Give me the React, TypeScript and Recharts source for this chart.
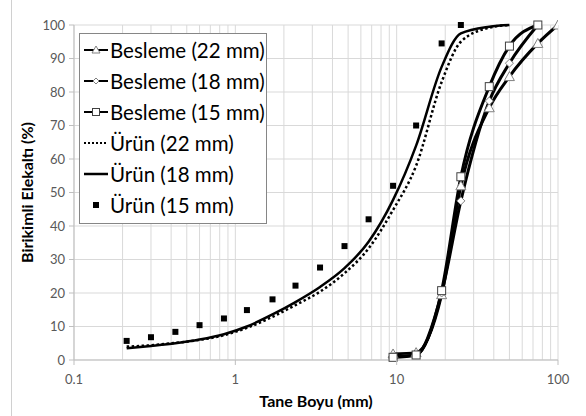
import React from "react";
import {
  LineChart,
  Line,
  XAxis,
  YAxis,
  CartesianGrid,
  Label,
} from "recharts";

// sieve sizes (mm)
const feedSizes = [9.5, 13.2, 19, 25, 37.5, 50, 75];
const feed22Sizes = [9.5, 13.2, 19, 25, 37.5, 50, 75, 100];
const productSizes = [0.212, 0.3, 0.425, 0.6, 0.85, 1.18, 1.7, 2.36, 3.35, 4.75, 6.7, 9.5, 13.2, 19, 25];
const productCurveSizes = [0.212, 0.3, 0.425, 0.6, 0.85, 1.18, 1.7, 2.36, 3.35, 4.75, 6.7, 9.5, 13.2, 19, 25, 37.5, 50];

// cumulative passing (%)
const feed22 = [1.8, 2.2, 19.5, 52, 75.3, 84.6, 94.5, 100];
const feed18 = [1.0, 1.5, 20, 47.5, 77.3, 88.6, 100];
const feed15 = [0.8, 1.5, 20.7, 54.7, 81.6, 93.7, 100];
const product22 = [4.0, 4.4, 5.1, 6.0, 7.4, 9.6, 12.9, 16.4, 20.4, 25.9, 33.3, 44.8, 58, 83, 95, 99.2, 100];
const product18 = [3.5, 4.2, 5.0, 6.1, 7.7, 10.0, 13.6, 17.3, 21.8, 27.4, 35.3, 47.8, 64, 87.5, 97.5, 99.5, 100];
const product15 = [5.7, 6.8, 8.4, 10.4, 12.4, 14.9, 18.1, 22.2, 27.6, 34, 42, 52, 70, 94.5, 100];

const xTicks = [
  0.1, 0.2, 0.3, 0.4, 0.5, 0.6, 0.7, 0.8, 0.9,
  1, 2, 3, 4, 5, 6, 7, 8, 9,
  10, 20, 30, 40, 50, 60, 70, 80, 90, 100,
];
const xLabels = [0.1, 1, 10, 100];
const yTicks = [0, 10, 20, 30, 40, 50, 60, 70, 80, 90, 100];

const legendNames = [
  "Besleme (22 mm)",
  "Besleme (18 mm)",
  "Besleme (15 mm)",
  "Ürün (22 mm)",
  "Ürün (18 mm)",
  "Ürün (15 mm)",
];

const pairs = (xs: number[], ys: number[]) => xs.map((s, i) => ({ size: s, value: ys[i] }));

const FONT = "Lato, Carlito, 'Open Sans', sans-serif";
const GRID = "#d9d9d9";
const AXIS = "#bfbfbf";

const Triangle = (p: any) => {
  if (p.cx == null) return null;
  const { cx, cy } = p;
  return (
    <path
      key={p.index}
      d={`M${cx},${cy - 5} L${cx + 5},${cy + 4} L${cx - 5},${cy + 4} Z`}
      fill="#fff"
      stroke="#808080"
      strokeWidth={1}
    />
  );
};

const Diamond = (p: any) => {
  if (p.cx == null) return null;
  const { cx, cy } = p;
  return (
    <path
      key={p.index}
      d={`M${cx},${cy - 4} L${cx + 4},${cy} L${cx},${cy + 4} L${cx - 4},${cy} Z`}
      fill="#fff"
      stroke="#808080"
      strokeWidth={1}
    />
  );
};

const OpenSquare = (p: any) => {
  if (p.cx == null) return null;
  return (
    <rect key={p.index} x={p.cx - 4} y={p.cy - 4} width={8} height={8} fill="#fff" stroke="#404040" strokeWidth={1} />
  );
};

const FilledSquare = (p: any) => {
  if (p.cx == null) return null;
  return <rect key={p.index} x={p.cx - 3} y={p.cy - 3} width={6} height={6} fill="#000" />;
};

const XTick = (p: any) => {
  const v = p.payload.value;
  if (!xLabels.includes(v)) return <g />;
  return (
    <g>
      <line x1={p.x} x2={p.x} y1={p.y - 8} y2={p.y - 3} stroke={AXIS} />
      <text x={p.x} y={p.y} dy={16} textAnchor="middle" fill="#595959" fontSize={13} fontFamily={FONT}>
        {v}
      </text>
    </g>
  );
};

function LegendSymbol({ i }: { i: number }) {
  return (
    <svg width={26} height={14} style={{ display: "block", flex: "none" }}>
      {i < 3 && <line x1={1} x2={25} y1={7} y2={7} stroke="#000" strokeWidth={2} />}
      {i === 0 && <path d="M13,3 L17,10 L9,10 Z" fill="#fff" stroke="#808080" />}
      {i === 1 && <path d="M13,4 L16,7 L13,10 L10,7 Z" fill="#fff" stroke="#808080" />}
      {i === 2 && <rect x={9.5} y={3.5} width={7} height={7} fill="#fff" stroke="#404040" />}
      {i === 3 && <line x1={1} x2={25} y1={7} y2={7} stroke="#000" strokeWidth={2} strokeDasharray="2 2" />}
      {i === 4 && <line x1={1} x2={25} y1={7} y2={7} stroke="#000" strokeWidth={2.5} />}
      {i === 5 && <rect x={10} y={4} width={6} height={6} fill="#000" />}
    </svg>
  );
}

export default function App() {
  return (
    <div style={{ position: "absolute", left: 0, top: 0, width: 586, height: 416, background: "#fff", fontFamily: FONT }}>
      <div style={{ position: "absolute", left: 11, top: 0, width: 1, height: 416, background: "#d0d0d0" }} />
      <LineChart width={586} height={416} margin={{ top: 25, right: 28, left: 0, bottom: 0 }}>
        <CartesianGrid stroke={GRID} strokeWidth={1} />
        <XAxis
          dataKey="size"
          type="number"
          scale="log"
          domain={[0.1, 100]}
          ticks={xTicks}
          allowDataOverflow
          interval={0}
          height={56}
          stroke={AXIS}
          tickLine={false}
          tick={<XTick />}
        >
          <Label
            value="Tane Boyu (mm)"
            position="insideBottom"
            offset={9}
            style={{ fontFamily: FONT, fontSize: 16, fontWeight: 700, fill: "#000" }}
          />
        </XAxis>
        <YAxis
          type="number"
          domain={[0, 100]}
          ticks={yTicks}
          width={74}
          stroke={AXIS}
          tickSize={5}
          tickMargin={4}
          tick={{ fill: "#595959", fontSize: 13, fontFamily: FONT }}
        >
          <Label
            value="Birikimli Elekaltı (%)"
            angle={-90}
            position="insideLeft"
            offset={27}
            style={{ textAnchor: "middle", fontFamily: FONT, fontSize: 16, fontWeight: 700, fill: "#000" }}
          />
        </YAxis>

        <Line data={pairs(feed22Sizes, feed22)} dataKey="value" type="monotone" stroke="#000" strokeWidth={3} dot={Triangle} isAnimationActive={false} />
        <Line data={pairs(feedSizes, feed18)} dataKey="value" type="monotone" stroke="#000" strokeWidth={3} dot={Diamond} isAnimationActive={false} />
        <Line data={pairs(feedSizes, feed15)} dataKey="value" type="monotone" stroke="#000" strokeWidth={3} dot={OpenSquare} isAnimationActive={false} />
        <Line data={pairs(productCurveSizes, product22)} dataKey="value" type="monotone" stroke="#000" strokeWidth={2.5} strokeDasharray="2.5 2.5" dot={false} isAnimationActive={false} />
        <Line data={pairs(productCurveSizes, product18)} dataKey="value" type="monotone" stroke="#000" strokeWidth={2.5} dot={false} isAnimationActive={false} />
        <Line data={pairs(productSizes, product15)} dataKey="value" stroke="none" dot={FilledSquare} isAnimationActive={false} />
      </LineChart>

      <div
        style={{
          position: "absolute",
          left: 79,
          top: 33,
          width: 186,
          height: 189,
          border: "1px solid #868686",
          background: "#fff",
        }}
      >
        {legendNames.map((n, i) => (
          <div key={n} style={{ display: "flex", alignItems: "center", height: 31, paddingLeft: 3 }}>
            <LegendSymbol i={i} />
            <span style={{ fontSize: 20.5, color: "#000", marginLeft: 1, whiteSpace: "nowrap" }}>{n}</span>
          </div>
        ))}
      </div>
    </div>
  );
}
